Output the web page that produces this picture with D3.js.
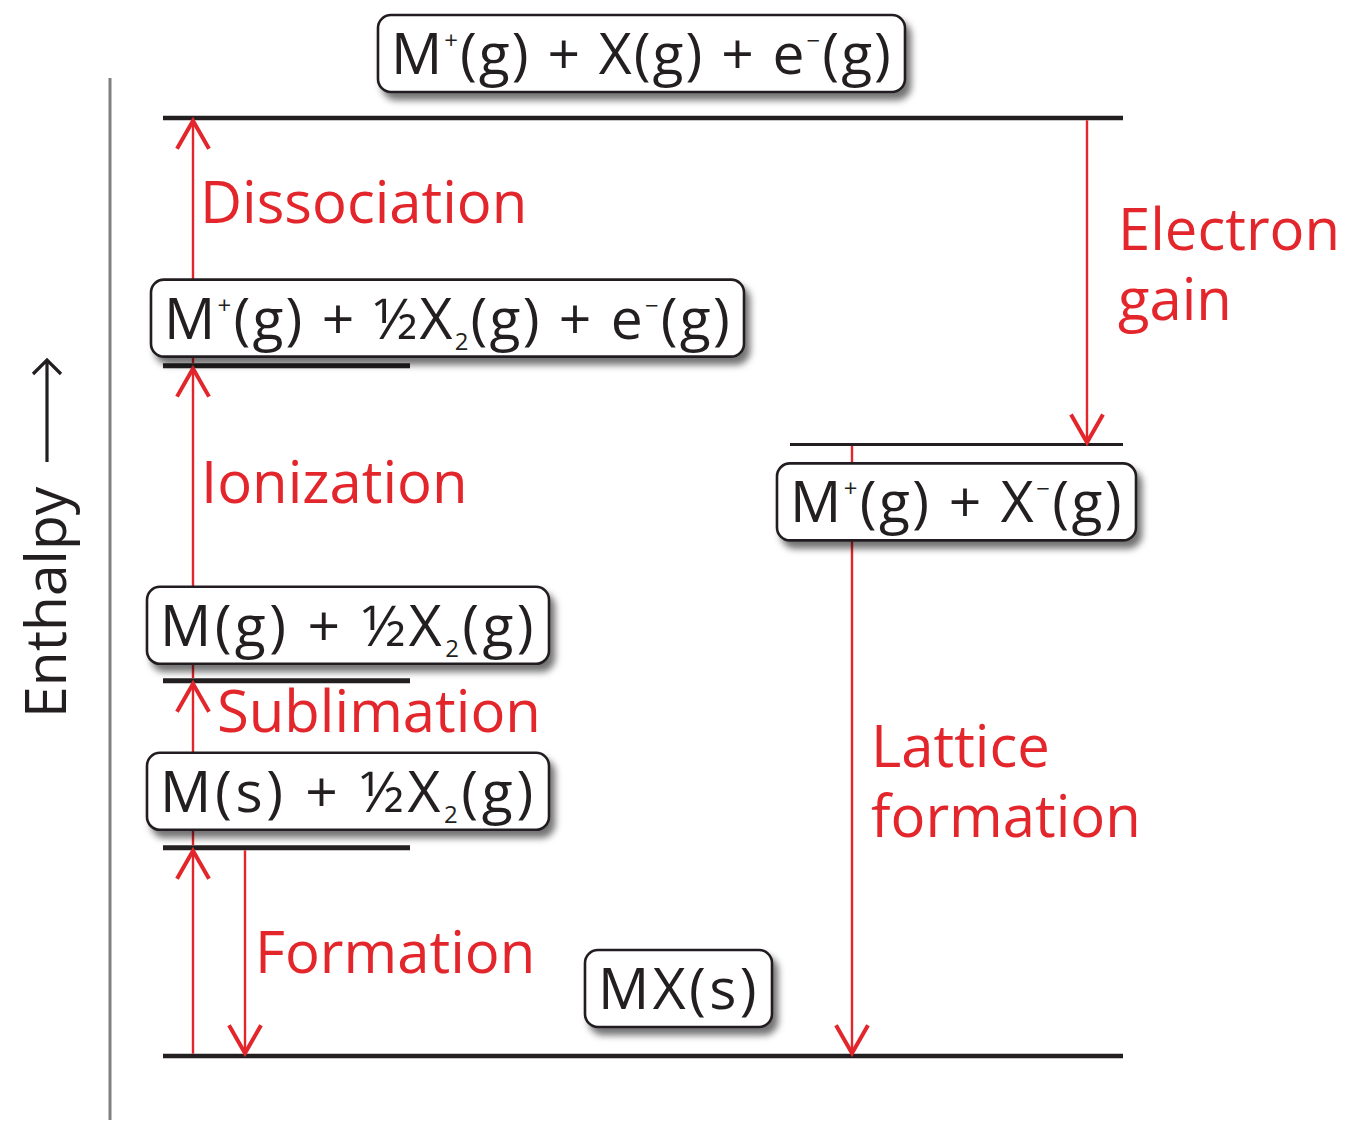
<!DOCTYPE html>
<html>
<head>
<meta charset="utf-8">
<script src="https://cdn.jsdelivr.net/npm/d3@7/dist/d3.min.js"></script>
<style>
  html, body { margin: 0; padding: 0; background: #fff; }
  svg { display: block; }
</style>
</head>
<body>
<div id="chart"></div>
<script>
// ---------------- data ----------------
const levelIds       = ["MX", "Ms", "Mg", "Mion", "ions", "atoms"];
const levelLabels    = ["MX(s)", "M(s) + ½X_2(g)", "M(g) + ½X_2(g)",
                        "M^+(g) + ½X_2(g) + e^−(g)", "M^+(g) + X^−(g)",
                        "M^+(g) + X(g) + e^−(g)"];
const levelEnthalpy  = [0, 22.2, 40.0, 73.6, 65.2, 100];   // arbitrary enthalpy units

const stepIds    = ["formUp", "sub", "ion", "diss", "eg", "latt", "formDown"];
const stepFrom   = ["MX", "Ms", "Mg", "Mion", "atoms", "ions", "Ms"];
const stepTo     = ["Ms", "Mg", "Mion", "atoms", "ions", "MX", "MX"];
const stepLabels = [[], ["Sublimation"], ["Ionization"], ["Dissociation"],
                    ["Electron", "gain"], ["Lattice", "formation"], ["Formation"]];

const axisTitle = "Enthalpy";

// ---------------- layout ----------------
const W = 1349, H = 1122;
const RED = "#e3262b", INK = "#231f20";
const FONT = "'Open Sans', 'Noto Sans', sans-serif";
const FS = 57, LFS = 58;

const y = d3.scaleLinear().domain([0, 100]).range([1056, 118]);

const levelLayout = {
  MX:    { x1: 163, x2: 1123, sw: 4.5, boxX: 585, boxW: 187, side: "above", gap: 29 },
  Ms:    { x1: 163, x2: 410,  sw: 5,   boxX: 147, boxW: 402, side: "above", gap: 18 },
  Mg:    { x1: 163, x2: 410,  sw: 5,   boxX: 147, boxW: 402, side: "above", gap: 17 },
  Mion:  { x1: 163, x2: 410,  sw: 5,   boxX: 151, boxW: 593, side: "above", gap: 9 },
  ions:  { x1: 790, x2: 1123, sw: 3,   boxX: 777, boxW: 359, side: "below", gap: 19 },
  atoms: { x1: 163, x2: 1123, sw: 4.5, boxX: 378, boxW: 527, side: "above", gap: 26 }
};
const BOX_H = 77, BASE = 59, PADL = 13, PADR = 12;

const stepLayout = {
  formUp:   { x: 193 },
  sub:      { x: 193, lx: 217, ly: 732 },
  ion:      { x: 193, lx: 201, ly: 503 },
  diss:     { x: 193, lx: 200, ly: 223 },
  eg:       { x: 1087, lx: 1118, ly: 250 },
  latt:     { x: 852, lx: 871, ly: 767 },
  formDown: { x: 245, lx: 255, ly: 973 }
};
const LINE_GAP = 70, HEAD_W = 16, HEAD_L = 28;

const levels = levelIds.map((id, i) => ({ id, label: levelLabels[i], H: levelEnthalpy[i] }));
const levelById = Object.fromEntries(levels.map(d => [d.id, d]));
const steps = stepIds.map((id, i) => ({ id, from: stepFrom[i], to: stepTo[i], label: stepLabels[i] }));

const svg = d3.select("#chart").append("svg")
  .attr("width", W).attr("height", H)
  .attr("viewBox", `0 0 ${W} ${H}`);

const defs = svg.append("defs");
const f = defs.append("filter").attr("id", "shadow")
  .attr("x", "-10%").attr("y", "-30%").attr("width", "130%").attr("height", "180%");
f.append("feDropShadow").attr("dx", 5).attr("dy", 7)
  .attr("stdDeviation", 3.5).attr("flood-color", "#000").attr("flood-opacity", 0.55);

// vertical axis
svg.append("line")
  .attr("x1", 110).attr("x2", 110).attr("y1", 78).attr("y2", 1120)
  .attr("stroke", "#808080").attr("stroke-width", 3);

// axis title with arrow
const titleG = svg.append("g").attr("transform", "translate(66,718) rotate(-90)");
titleG.append("text")
  .attr("x", 0).attr("y", 0)
  .attr("font-family", FONT).attr("font-size", FS).attr("fill", INK)
  .text(axisTitle);
titleG.append("path")
  .attr("d", `M256,-19 L358,-19 M344,-33 L358,-19 L344,-5`)
  .attr("fill", "none").attr("stroke", INK).attr("stroke-width", 3.2)
  .attr("stroke-linejoin", "miter");

// level lines
svg.append("g").selectAll("line").data(levels).join("line")
  .attr("x1", d => levelLayout[d.id].x1)
  .attr("x2", d => levelLayout[d.id].x2)
  .attr("y1", d => y(d.H)).attr("y2", d => y(d.H))
  .attr("stroke", INK)
  .attr("stroke-width", d => levelLayout[d.id].sw);

// arrows
const arrowG = svg.append("g").attr("stroke", RED).attr("fill", "none");
steps.forEach(s => {
  const x = stepLayout[s.id].x;
  const y0 = y(levelById[s.from].H);
  const y1 = y(levelById[s.to].H);
  const dir = y1 < y0 ? -1 : 1;       // -1 up, 1 down
  const fromOff = levelLayout[s.from].sw / 2;
  const tip = y1 - dir * (levelLayout[s.to].sw / 2 + 0.5);
  arrowG.append("line")
    .attr("x1", x).attr("x2", x)
    .attr("y1", y0 + dir * fromOff).attr("y2", tip)
    .attr("stroke-width", 2.4);
  arrowG.append("path")
    .attr("d", `M${x - HEAD_W},${tip - dir * HEAD_L} L${x},${tip} L${x + HEAD_W},${tip - dir * HEAD_L}`)
    .attr("stroke-width", 4).attr("stroke-linejoin", "miter");
});

// formula rendering
function addFormula(textSel, str) {
  const segs = [];
  let buf = "";
  for (let i = 0; i < str.length; i++) {
    const c = str[i];
    if ((c === "^" || c === "_") && i + 1 < str.length) {
      if (buf) { segs.push({ t: buf, k: "n" }); buf = ""; }
      segs.push({ t: str[i + 1], k: c === "^" ? "sup" : "sub" });
      i++;
    } else buf += c;
  }
  if (buf) segs.push({ t: buf, k: "n" });
  let shift = 0, n = 0;
  segs.forEach(s => {
    const target = s.k === "sup" ? -25 : s.k === "sub" ? 11 : 0;
    const ts = textSel.append("tspan").text(s.t).attr("dy", target - shift);
    if (s.k !== "n") ts.attr("font-size", FS * 0.42);
    shift = target;
    n += s.t.length;
  });
  return n;
}

// boxes
const boxG = svg.append("g");
levels.forEach(d => {
  const L = levelLayout[d.id];
  const ly = y(d.H);
  const top = L.side === "above" ? ly - L.gap - BOX_H : ly + L.gap;
  const g = boxG.append("g");
  g.append("rect")
    .attr("x", L.boxX).attr("y", top).attr("height", BOX_H).attr("width", L.boxW)
    .attr("rx", 13).attr("ry", 13)
    .attr("fill", "#fff").attr("stroke", INK).attr("stroke-width", 2.6)
    .attr("filter", "url(#shadow)");
  const t = g.append("text")
    .attr("x", L.boxX + PADL).attr("y", top + BASE)
    .attr("font-family", FONT).attr("font-size", FS).attr("fill", INK);
  const n = addFormula(t, d.label);
  const w = t.node().getComputedTextLength();
  const target = L.boxW - PADL - PADR;
  const ls = (target - w) / n;
  t.attr("letter-spacing", ls.toFixed(2));
});

// step labels
const labG = svg.append("g");
steps.filter(s => s.label.length).forEach(s => {
  const L = stepLayout[s.id];
  const t = labG.append("text")
    .attr("x", L.lx).attr("y", L.ly)
    .attr("font-family", FONT).attr("font-size", LFS).attr("fill", RED);
  s.label.forEach((line, i) => {
    t.append("tspan").attr("x", L.lx).attr("y", L.ly + i * LINE_GAP).text(line);
  });
});
</script>
</body>
</html>
